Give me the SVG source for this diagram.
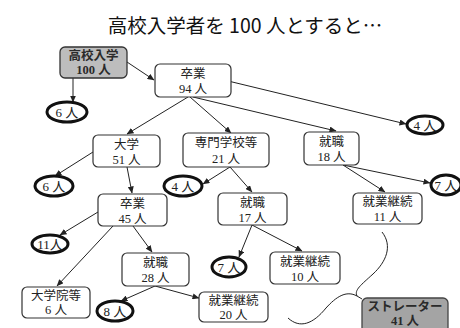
<svg xmlns="http://www.w3.org/2000/svg" width="460" height="328" viewBox="0 0 460 328">
<defs>
<marker id="ah" markerWidth="7" markerHeight="6" refX="6.5" refY="3" orient="auto" markerUnits="userSpaceOnUse">
<path d="M0,0 L7,3 L0,6 Z" fill="#222"/>
</marker>
<style>
.bx{fill:#fff;stroke:#333;stroke-width:1.2}
.gb{fill:#bdbdbd;stroke:#333;stroke-width:1.3}
.gb2{fill:#a4a4a4;stroke:#444;stroke-width:1.3}
.el{fill:#fff;stroke:#111;stroke-width:3}
.t{font-family:"Liberation Serif","Noto Sans CJK JP",serif;font-size:12.5px;fill:#222;text-anchor:middle}
.te{font-family:"Liberation Serif","Noto Sans CJK JP",serif;font-size:13px;fill:#222;text-anchor:middle}
.tg{font-family:"Liberation Serif","Noto Sans CJK JP",serif;font-size:12.5px;fill:#2a2a2a;text-anchor:middle;font-weight:bold}
.ln{stroke:#222;stroke-width:1;fill:none;marker-end:url(#ah)}
.cv{stroke:#222;stroke-width:1;fill:none}
.title{font-family:"Noto Sans CJK JP",sans-serif;font-size:19.5px;fill:#111;text-anchor:middle;font-weight:normal}
</style>
</defs>
<rect width="460" height="328" fill="#fff"/>
<text class="title" x="245" y="33">高校入学者を 100 人とすると…</text>

<g id="connectors">
<line class="ln" x1="73" y1="78" x2="73" y2="102"/>
<line class="ln" x1="127" y1="62" x2="154" y2="80"/>
<line class="ln" x1="224" y1="80" x2="406" y2="124"/>
<line class="ln" x1="188" y1="97" x2="127" y2="134"/>
<line class="ln" x1="190" y1="97" x2="231" y2="133"/>
<line class="ln" x1="193" y1="97" x2="336" y2="131"/>
<line class="ln" x1="93" y1="152" x2="55" y2="176"/>
<line class="ln" x1="127" y1="167" x2="132" y2="193"/>
<line class="ln" x1="230" y1="167" x2="203" y2="184"/>
<line class="ln" x1="230" y1="167" x2="252" y2="192"/>
<line class="ln" x1="343" y1="165" x2="430" y2="183"/>
<line class="ln" x1="343" y1="165" x2="385" y2="192"/>
<line class="ln" x1="98" y1="212" x2="60" y2="235"/>
<line class="ln" x1="113" y1="226" x2="57" y2="286"/>
<line class="ln" x1="133" y1="226" x2="152" y2="252"/>
<line class="ln" x1="252" y1="225" x2="239" y2="257"/>
<line class="ln" x1="252" y1="225" x2="302" y2="251"/>
<line class="ln" x1="155" y1="286" x2="121" y2="301"/>
<line class="ln" x1="155" y1="286" x2="199" y2="298"/>
<path class="cv" d="M382,232 C393,246 386,262 373,274 C361,285 354,290 357,296 L362,299"/>
<path class="cv" d="M357,296 C346,290 336,297 326,308 C313,324 300,329 288,318"/>
</g>

<g id="n_entry"><rect class="gb" x="60" y="47" width="67" height="31" rx="5"/><text class="tg" x="93.5" y="60">高校入学</text><text class="tg" x="93.5" y="74">100 人</text></g>
<g id="n_grad94"><rect class="bx" x="155" y="64" width="76" height="33" rx="5"/><text class="t" x="193" y="78">卒業</text><text class="t" x="193" y="93">94 人</text></g>
<g id="e_drop6a"><ellipse class="el" cx="67" cy="112" rx="20" ry="10"/><text class="te" x="67" y="117">6 人</text></g>
<g id="e_drop4a"><ellipse class="el" cx="425" cy="125" rx="18" ry="9"/><text class="te" x="425" y="130">4 人</text></g>
<g id="n_univ"><rect class="bx" x="93" y="135" width="67" height="32" rx="5"/><text class="t" x="126.5" y="149">大学</text><text class="t" x="126.5" y="164">51 人</text></g>
<g id="n_senmon"><rect class="bx" x="183" y="133" width="86" height="34" rx="5"/><text class="t" x="226" y="147">専門学校等</text><text class="t" x="226" y="163">21 人</text></g>
<g id="n_job18"><rect class="bx" x="304" y="132" width="55" height="33" rx="5"/><text class="t" x="331.5" y="146">就職</text><text class="t" x="331.5" y="161">18 人</text></g>
<g id="e_drop6b"><ellipse class="el" cx="54" cy="186" rx="19" ry="10"/><text class="te" x="54" y="191">6 人</text></g>
<g id="e_drop4b"><ellipse class="el" cx="183" cy="186" rx="19" ry="10"/><text class="te" x="183" y="191">4 人</text></g>
<g id="e_drop7a"><ellipse class="el" cx="446" cy="185" rx="15" ry="10"/><text class="te" x="446" y="190">7 人</text></g>
<g id="n_grad45"><rect class="bx" x="98" y="194" width="69" height="32" rx="5"/><text class="t" x="132.5" y="208">卒業</text><text class="t" x="132.5" y="223">45 人</text></g>
<g id="n_job17"><rect class="bx" x="218" y="193" width="69" height="32" rx="5"/><text class="t" x="252.5" y="207">就職</text><text class="t" x="252.5" y="222">17 人</text></g>
<g id="n_cont11"><rect class="bx" x="353" y="193" width="69" height="31" rx="5"/><text class="t" x="387.5" y="206">就業継続</text><text class="t" x="387.5" y="221">11 人</text></g>
<g id="e_drop11"><ellipse class="el" cx="50" cy="244" rx="18" ry="9"/><text class="te" x="50" y="249">11人</text></g>
<g id="n_job28"><rect class="bx" x="122" y="253" width="67" height="33" rx="5"/><text class="t" x="155.5" y="267">就職</text><text class="t" x="155.5" y="282">28 人</text></g>
<g id="e_drop7b"><ellipse class="el" cx="229" cy="267" rx="17" ry="10"/><text class="te" x="229" y="272">7 人</text></g>
<g id="n_cont10"><rect class="bx" x="270" y="252" width="70" height="32" rx="5"/><text class="t" x="305" y="266">就業継続</text><text class="t" x="305" y="281">10 人</text></g>
<g id="n_gradschool"><rect class="bx" x="22" y="287" width="68" height="31" rx="5"/><text class="t" x="56" y="300">大学院等</text><text class="t" x="56" y="314">6 人</text></g>
<g id="e_drop8"><ellipse class="el" cx="115" cy="311" rx="18" ry="10"/><text class="te" x="115" y="316">8 人</text></g>
<g id="n_cont20"><rect class="bx" x="199" y="292" width="69" height="30" rx="5"/><text class="t" x="233.5" y="305">就業継続</text><text class="t" x="233.5" y="319">20 人</text></g>
<g id="n_straighter"><rect class="gb2" x="362" y="298" width="86" height="38" rx="5"/><text class="tg" x="405" y="311">ストレーター</text><text class="tg" x="405" y="325" font-size="12">41 人</text></g>
</svg>
